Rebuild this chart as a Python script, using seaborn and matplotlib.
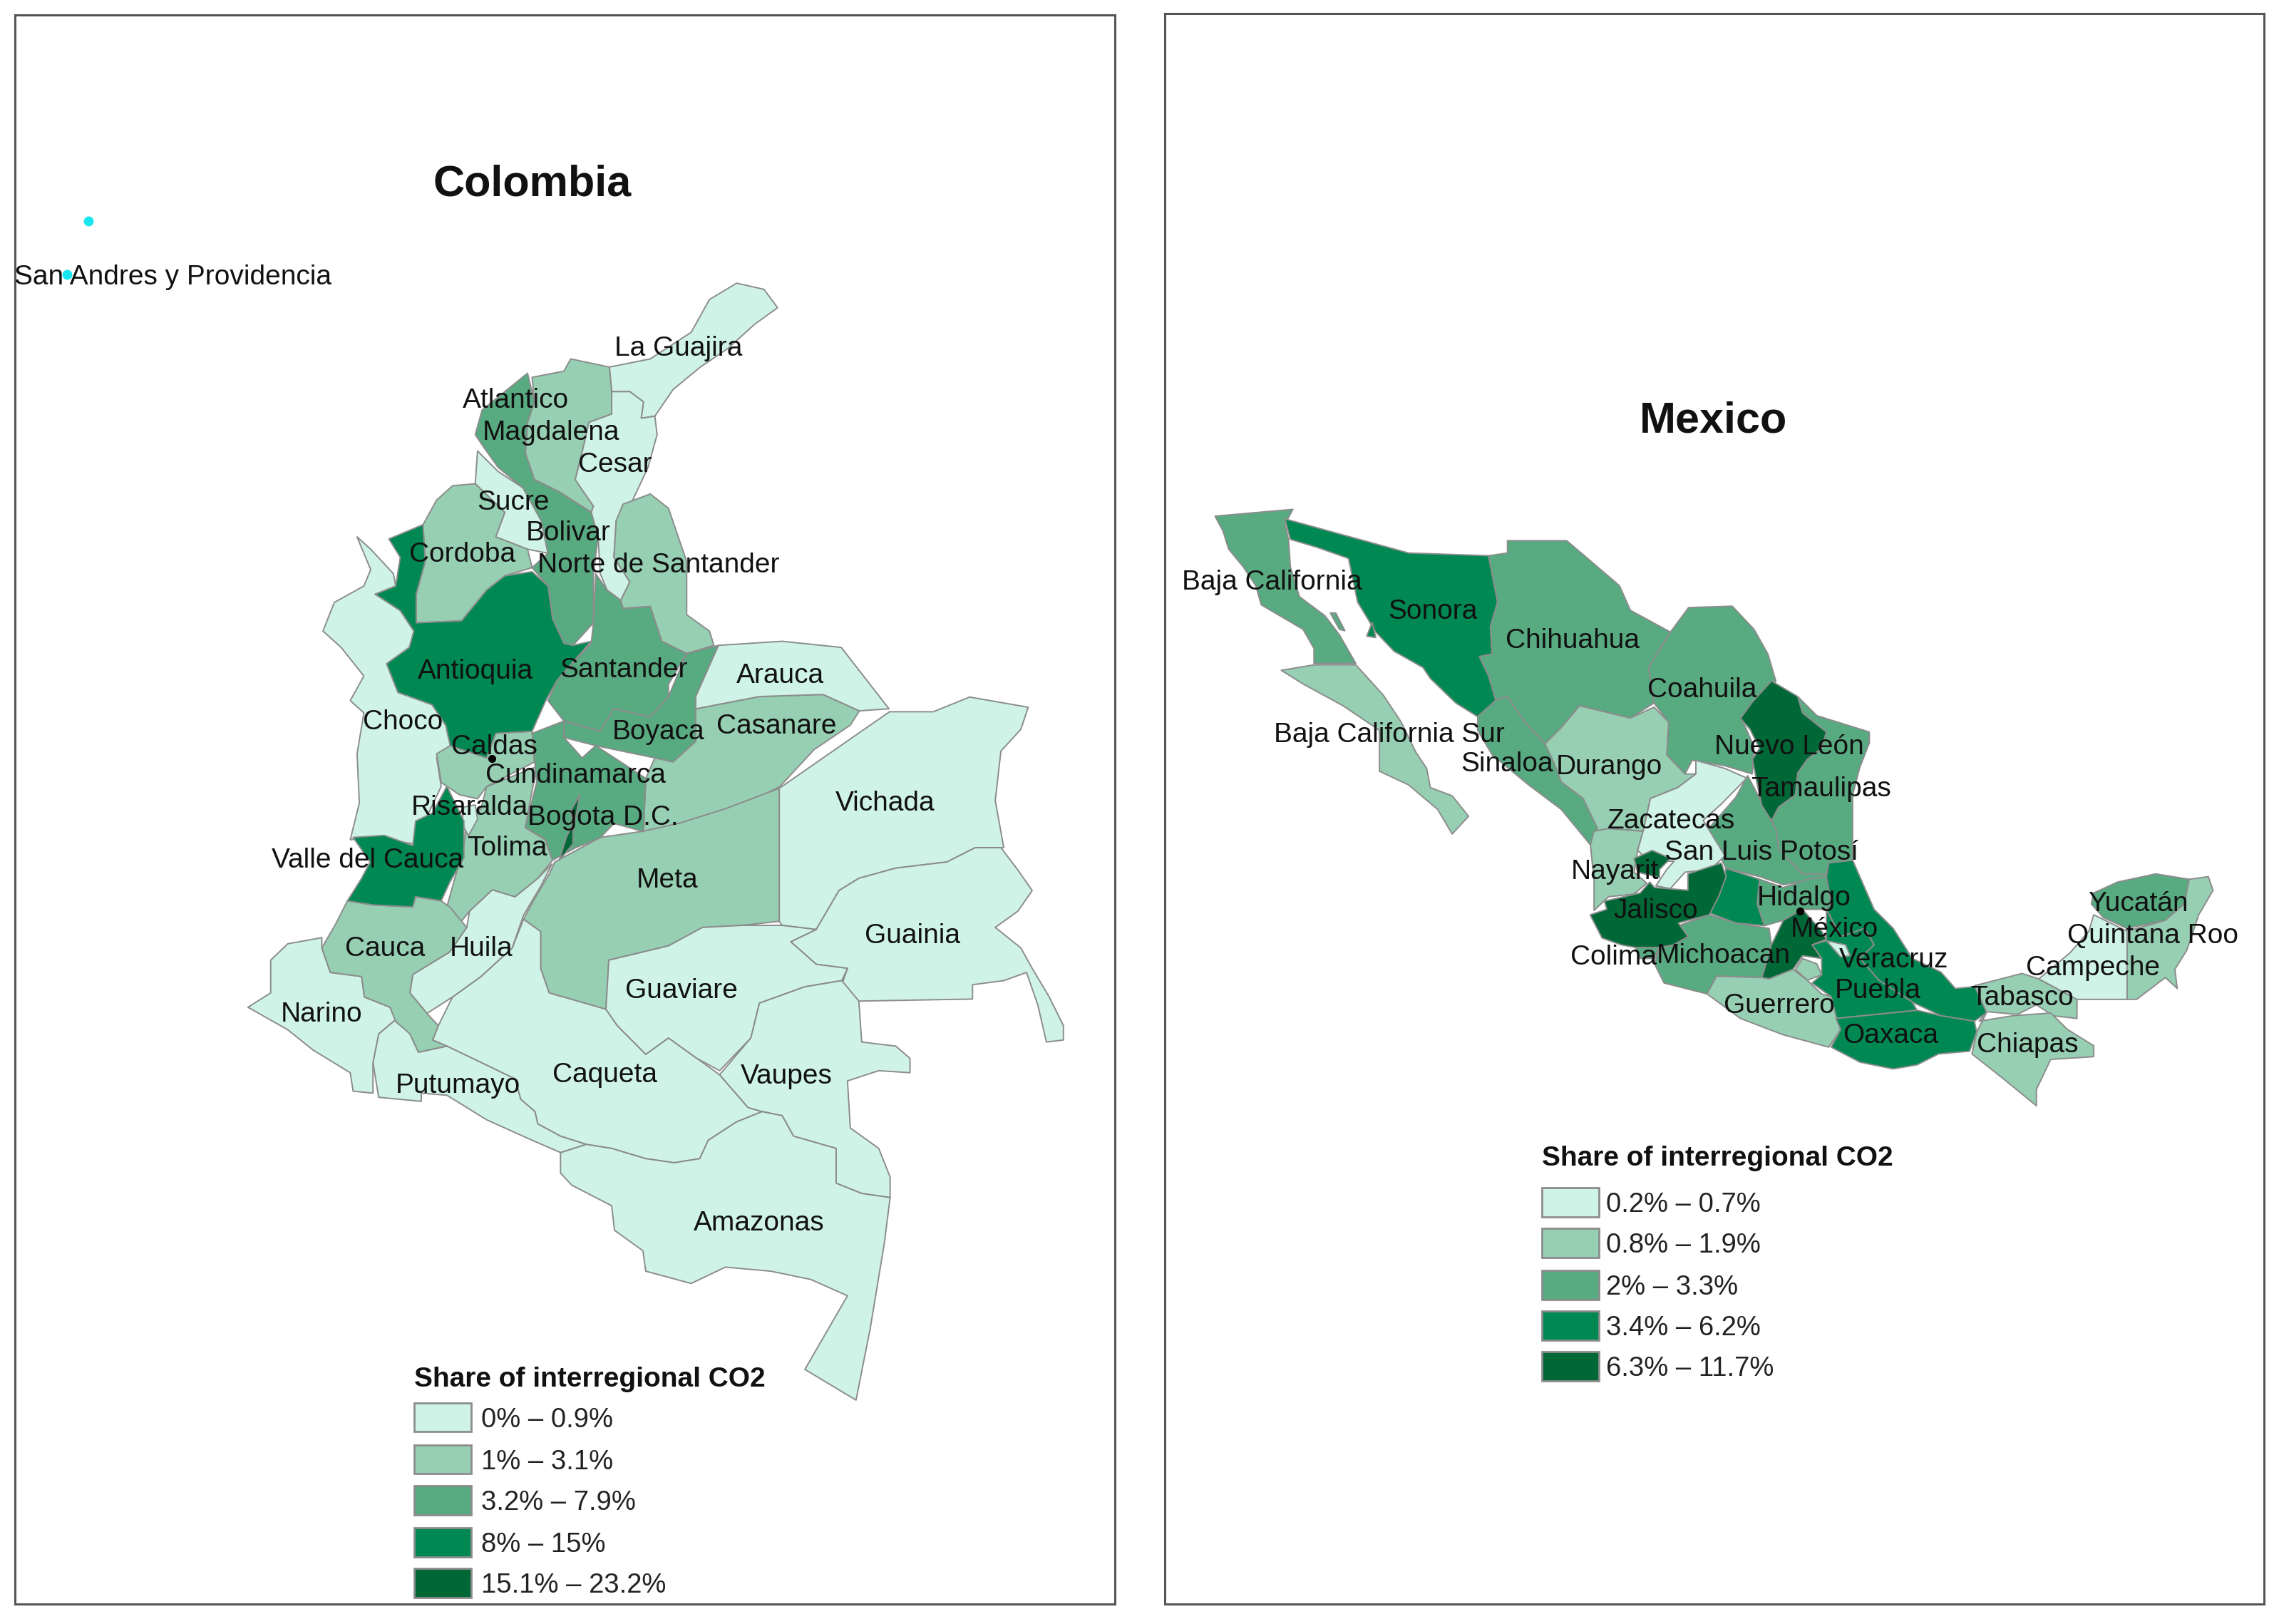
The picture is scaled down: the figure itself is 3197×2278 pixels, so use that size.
import matplotlib
matplotlib.use("Agg")
import matplotlib.pyplot as plt
from matplotlib.patches import Rectangle
import seaborn as sns

W, H = 3197, 2278
DISP = 3197 / 1568
TEXT_DY = 1.8

# Source frames of the digitised outlines: (x0, x scale, y0, y scale)
FRAMES = {
    "A": (300, 1.568, 380, 1.742),
    "B": (300, 1.2544, 1100, 1.742),
    "C": (1680, 1.96, 680, 2.613),
    "D": (2100, 1.4933, 1000, 2.613),
}

CLASS_COLORS = ["#CFF4E7", "#96CFB2", "#58AA81", "#008852", "#006837"]
COL_LEGEND = ["0% – 0.9%", "1% – 3.1%", "3.2% – 7.9%", "8% – 15%", "15.1% – 23.2%"]
MEX_LEGEND = ["0.2% – 0.7%", "0.8% – 1.9%", "2% – 3.3%", "3.4% – 6.2%", "6.3% – 11.7%"]
LEGEND_TITLE = "Share of interregional CO2"

# ---------- Colombia department outlines (frame, class, vertices) ----------
choco = [(315,650),(345,680),(395,740),(400,770),(355,790),(410,830),(440,880),(430,920),(380,960),(405,1030),(480,1060),(510,1110),(520,1160),(490,1190),(500,1260),(440,1400),(350,1385),(300,1390),(320,1300),(315,1180),(330,1080),(300,1050),(330,990),(280,920),(240,880),(265,810),(330,770),(345,730)]
guajira = [(870,235),(960,215),(1050,150),(1090,70),(1150,30),(1210,45),(1240,90),(1190,130),(1130,190),(1070,235),(1010,290),(970,355),(940,360),(945,320),(915,295),(875,295)]
magdalena = [(870,235),(785,215),(770,245),(700,260),(705,320),(690,370),(685,445),(705,510),(760,540),(830,590),(835,575),(795,510),(815,420),(825,370),(875,350),(875,295)]
atl_bolivar = [(690,250),(705,320),(690,370),(685,445),(705,510),(760,540),(830,590),(845,650),(835,740),(835,860),(790,915),(770,910),(745,850),(735,770),(700,725),(735,690),(720,610),(680,530),(625,480),(590,425),(575,400),(590,340)]
cesar = [(875,295),(915,295),(945,320),(940,360),(970,355),(975,400),(955,480),(915,575),(885,610),(880,700),(915,760),(895,805),(865,780),(850,740),(845,650),(830,590),(835,575),(795,510),(815,420),(825,370),(875,350)]
sucre = [(580,440),(625,490),(680,530),(720,610),(735,690),(690,680),(620,650),(640,590),(575,520)]
cordoba = [(525,525),(575,520),(640,590),(620,650),(690,680),(700,725),(640,745),(600,780),(545,855),(445,860),(445,790),(465,710),(460,620),(490,560)]
antioquia = [(460,620),(385,655),(410,700),(400,770),(355,790),(410,830),(440,880),(430,920),(380,960),(405,1030),(480,1060),(510,1110),(520,1160),(600,1190),(620,1130),(700,1125),(730,1050),(755,1000),(830,905),(790,915),(770,910),(745,850),(735,770),(700,735),(640,745),(600,780),(545,855),(445,860),(445,790),(465,710)]
n_santander = [(900,570),(960,545),(1000,580),(1040,710),(1040,840),(1090,880),(1100,915),(1040,935),(985,905),(960,820),(900,825),(895,805),(915,760),(880,700),(885,610)]
santander = [(840,740),(865,780),(895,805),(900,825),(960,820),(985,905),(1040,935),(1000,1010),(1000,1040),(960,1090),(880,1070),(850,1125),(770,1100),(735,1050),(755,1000),(830,910),(835,860)]
boyaca = [(1110,915),(1060,1040),(1060,1150),(1010,1200),(970,1190),(840,1160),(770,1140),(770,1100),(850,1125),(880,1070),(960,1090),(1000,1040),(1040,935)]
cundinamarca = [(700,1130),(770,1100),(770,1140),(810,1190),(840,1160),(950,1240),(945,1370),(880,1350),(850,1385),(795,1410),(745,1440),(730,1390),(685,1360),(710,1250)]
casanare = [(1060,1070),(1200,1040),(1340,1035),(1420,1075),(1400,1110),(1320,1170),(1245,1260),(1140,1320),(1020,1360),(945,1370),(950,1240),(970,1190),(1010,1200),(1060,1150)]
arauca = [(1110,915),(1250,905),(1380,920),(1485,1070),(1420,1075),(1340,1035),(1200,1040),(1060,1070),(1060,1040)]
caldas_ris = [(490,1180),(520,1160),(600,1190),(620,1130),(700,1125),(705,1200),(600,1260),(580,1290),(540,1280),(500,1250)]
quindio = [(575,1305),(580,1340),(560,1380),(545,1350),(550,1310)]
bogota = [(805,1280),(790,1370),(790,1400),(760,1440),(775,1385),(790,1350),(785,1320)]

tolima = [(480,6),(568,-43),(548,106),(583,136),(596,186),(570,230),(530,275),(490,258),(450,310),(430,345),(410,300),(440,150),(445,100),(470,60)]
meta = [(600,190),(680,130),(755,115),(820,95),(900,60),(995,10),(995,335),(930,345),(860,350),(800,395),(695,430),(690,550),(590,510),(575,450),(575,360),(545,330),(560,290),(590,220)]
valle = [(410,5),(440,90),(440,180),(415,240),(400,285),(355,275),(350,300),(280,295),(235,285),(260,230),(275,190),(245,130),(300,125),(350,150),(355,90),(385,70)]
cauca = [(235,285),(280,295),(350,300),(355,275),(400,285),(415,300),(445,350),(415,410),(350,465),(345,510),(375,560),(395,590),(385,625),(410,640),(360,655),(345,610),(320,580),(310,545),(265,520),(260,470),(205,460),(190,400),(215,340)]
huila = [(490,258),(530,275),(570,230),(595,195),(575,250),(545,320),(525,400),(470,470),(420,520),(375,560),(345,510),(350,465),(415,410),(445,350),(450,310)]
narino = [(190,375),(190,400),(205,460),(260,470),(265,520),(310,545),(320,575),(290,610),(280,680),(280,755),(245,750),(240,705),(175,650),(130,600),(60,545),(100,510),(100,430),(130,390)]
putumayo = [(320,575),(345,610),(360,655),(410,640),(470,680),(530,720),(540,770),(565,800),(570,830),(610,860),(655,880),(610,900),(560,870),(480,820),(410,760),(365,755),(365,775),(290,765),(280,680),(290,610)]
caqueta = [(545,330),(575,360),(575,450),(590,510),(690,550),(710,590),(760,660),(800,620),(850,670),(890,710),(940,790),(965,800),(920,825),(870,870),(855,915),(810,925),(760,915),(700,890),(655,880),(610,860),(570,830),(565,800),(540,770),(530,720),(470,680),(410,640),(385,625),(395,590),(420,520),(470,470),(525,400)]
guaviare = [(695,430),(800,395),(860,350),(930,345),(1000,345),(1060,355),(1015,385),(1060,440),(1115,450),(1105,480),(1040,495),(960,535),(945,620),(890,700),(850,670),(800,620),(760,660),(710,590),(690,550)]
vichada = [(995,10),(1189,-177),(1266,-177),(1330,-213),(1433,-188),(1420,-134),(1385,-81),(1375,40),(1390,155),(1340,155),(1290,190),(1200,205),(1135,230),(1100,260),(1060,355),(1000,345),(995,335)]
guainia = [(1060,355),(1100,260),(1135,230),(1200,205),(1290,190),(1340,155),(1385,155),(1415,210),(1440,260),(1415,310),(1375,350),(1420,400),(1440,450),(1470,520),(1495,590),(1495,625),(1465,630),(1450,540),(1430,460),(1390,480),(1335,490),(1335,525),(1135,530),(1105,490),(1115,450),(1060,440),(1015,385)]
vaupes = [(960,535),(1040,495),(1105,480),(1135,530),(1140,630),(1200,640),(1225,670),(1225,705),(1170,700),(1115,725),(1120,840),(1170,890),(1190,960),(1190,1010),(1140,1000),(1095,975),(1095,890),(1020,860),(1000,810),(965,800),(940,790),(890,710),(945,620)]
amazonas = [(610,900),(655,880),(700,890),(760,915),(810,925),(855,915),(870,870),(920,825),(965,800),(1000,810),(1020,860),(1095,890),(1095,975),(1140,1000),(1190,1010),(1180,1120),(1155,1330),(1130,1505),(1040,1430),(1115,1250),(1050,1210),(980,1190),(900,1180),(840,1220),(760,1190),(755,1140),(705,1090),(700,1030),(630,980),(610,950)]

COLOMBIA = [
    ("A",0,choco),("A",0,guajira),("A",1,magdalena),("A",0,cesar),("A",0,sucre),("A",1,cordoba),
    ("A",2,atl_bolivar),("A",1,n_santander),("A",2,santander),("A",2,boyaca),("A",1,casanare),("A",0,arauca),
    ("B",1,meta),("B",0,vichada),("B",0,guainia),("B",0,caqueta),("B",0,guaviare),("B",0,vaupes),("B",0,amazonas),
    ("B",0,putumayo),("B",0,narino),("B",0,huila),("B",1,tolima),("A",1,caldas_ris),("A",2,cundinamarca),
    ("A",3,antioquia),("B",1,cauca),("A",0,quindio),("B",3,valle),("A",4,bogota),
]

# ---------- Mexico state outlines ----------
baja = [(48,115),(262,90),(240,145),(250,200),(255,300),(280,410),(350,480),(390,550),(435,655),(320,655),(320,600),(290,530),(175,440),(160,370),(125,300),(85,235),(70,170)]
sonora = [(240,125),(580,250),(800,260),(825,430),(805,520),(810,620),(775,630),(800,700),(820,790),(770,850),(710,800),(640,710),(620,670),(540,610),(490,540),(440,430),(415,270),(330,230),(255,200)]
sonora_isle = [(465,555),(480,505),(490,560)]
baja_isle = [(365,470),(380,470),(405,535),(390,530)]
chihuahua = [(800,260),(852,250),(852,205),(1015,205),(1090,290),(1160,370),(1190,460),(1300,540),(1240,670),(1255,800),(1190,855),(1050,810),(1000,890),(955,950),(900,870),(850,775),(820,790),(800,700),(775,630),(810,620),(805,520),(825,430)]
coahuila = [(1300,540),(1350,450),(1470,445),(1530,530),(1568,620),(1590,720),(1540,790),(1495,855),(1530,960),(1525,1060),(1450,1030),(1360,1010),(1340,1060),(1290,990),(1295,870),(1255,800),(1240,670)]
durango = [(955,950),(1000,890),(1050,810),(1190,855),(1255,815),(1295,870),(1290,990),(1340,1060),(1370,1060),(1320,1110),(1245,1150),(1225,1270),(1130,1260),(1090,1270),(1060,1150),(1000,1090),(980,1020)]
sinaloa = [(770,850),(820,790),(850,775),(900,870),(955,950),(980,1020),(1000,1090),(1060,1150),(1100,1260),(1080,1320),(1000,1190),(910,1100),(810,990),(770,900)]
bcs = [(230,680),(320,660),(435,660),(510,770),(560,870),(600,980),(630,1040),(640,1110),(700,1140),(745,1215),(700,1280),(660,1190),(580,1100),(500,1050),(500,900),(400,810),(290,730)]
zacatecas = [(1370,1010),(1450,1040),(1510,1075),(1440,1170),(1390,1230),(1450,1360),(1410,1410),(1340,1420),(1300,1480),(1260,1470),(1290,1410),(1310,1380),(1240,1380),(1210,1340),(1225,1270),(1245,1150),(1320,1110),(1370,1060)]
aguascal = [(1200,1370),(1250,1340),(1300,1370),(1270,1410),(1270,1440),(1210,1420)]
nayarit = [(1090,1270),(1130,1260),(1225,1270),(1210,1340),(1200,1420),(1235,1460),(1200,1500),(1130,1510),(1090,1560),(1090,1450),(1080,1320)]

nuevo_leon = [(575,-117),(630,-60),(640,0),(690,70),(685,100),(680,130),(650,170),(630,220),(625,300),(590,345),(575,395),(555,340),(545,260),(535,170),(550,130),(530,60),(510,20),(535,-40)]
tamaulipas = [(630,-60),(670,10),(780,70),(780,110),(760,200),(745,300),(745,540),(695,550),(690,590),(640,590),(590,500),(585,430),(575,395),(590,345),(625,300),(630,220),(650,170),(680,130),(690,70),(640,0)]
slp = [(525,230),(575,395),(585,430),(590,500),(640,590),(695,550),(690,600),(660,610),(600,630),(550,600),(480,570),(440,430),(500,310)]
jalisco = [(470,550),(480,600),(465,670),(445,740),(380,770),(400,820),(370,850),(340,860),(290,860),(260,850),(220,825),(195,740),(230,720),(225,690),(300,660),(320,620),(330,640),(400,650),(400,590)]
colima = [(290,860),(340,860),(330,900),(300,900)]
guanajuato = [(480,570),(550,610),(545,700),(560,780),(500,770),(440,730),(465,670)]
michoacan = [(380,780),(445,740),(500,770),(570,790),(575,850),(555,970),(460,965),(440,1030),(350,990),(330,920),(340,860),(370,850),(400,820)]
hidalgo = [(550,610),(600,640),(650,610),(690,600),(700,700),(690,720),(640,720),(600,760),(560,780),(545,700)]
edomex = [(600,760),(640,720),(680,800),(690,830),(660,850),(680,900),(640,890),(620,940),(570,975),(555,970),(575,850)]
tlaxcala = [(690,835),(730,850),(740,890),(720,895)]
morelos = [(640,900),(670,920),(680,960),(650,980),(625,940)]
veracruz = [(695,550),(745,540),(770,640),(790,720),(830,790),(870,900),(930,950),(960,1010),(1020,1000),(1025,1100),(1000,1130),(930,1110),(870,1060),(800,980),(760,900),(790,850),(770,790),(720,820),(690,720),(700,700),(690,600)]
puebla = [(690,720),(720,820),(770,790),(790,850),(760,900),(800,980),(870,1060),(880,1090),(710,1120),(700,1040),(660,990),(680,960),(680,900),(660,850),(690,835)]
guerrero = [(440,1030),(460,965),(555,970),(570,975),(620,940),(650,980),(680,1030),(700,1040),(710,1110),(720,1160),(695,1225),(600,1180),(510,1120)]
oaxaca = [(710,1120),(880,1090),(930,1110),(1000,1130),(1005,1170),(990,1240),(925,1250),(880,1290),(830,1305),(760,1280),(700,1225),(720,1160)]
chiapas = [(1010,1130),(1080,1110),(1160,1100),(1195,1160),(1250,1220),(1250,1260),(1160,1270),(1130,1380),(1130,1440),(1060,1340),(995,1250),(1005,1170),(1025,1100)]
tabasco = [(1000,1000),(1100,955),(1135,975),(1215,1050),(1215,1120),(1165,1110),(1130,1070),(1090,1105),(1025,1095)]
campeche = [(1250,740),(1320,800),(1320,1050),(1215,1050),(1135,975),(1200,880),(1240,800)]
yucatan = [(1250,660),(1300,620),(1380,590),(1450,610),(1440,700),(1400,760),(1320,790),(1270,750),(1245,700)]
qroo = [(1450,610),(1490,600),(1500,650),(1470,740),(1445,870),(1420,940),(1425,1010),(1400,970),(1340,1050),(1320,1050),(1320,800),(1400,760),(1440,700)]

MEXICO = [
    ("C",2,baja),("C",2,baja_isle),("C",3,sonora),("C",3,sonora_isle),("C",2,chihuahua),("C",2,coahuila),("C",1,durango),
    ("C",2,sinaloa),("C",1,bcs),("C",1,nayarit),("D",2,slp),("D",2,tamaulipas),("C",0,zacatecas),("C",4,aguascal),
    ("D",4,nuevo_leon),("D",2,hidalgo),("D",3,guanajuato),("D",2,michoacan),("D",4,jalisco),("D",2,colima),
    ("D",3,veracruz),("D",3,puebla),("D",4,edomex),("D",0,tlaxcala),("D",1,morelos),("D",1,guerrero),("D",3,oaxaca),
    ("D",1,tabasco),("D",1,chiapas),("D",0,campeche),("D",2,yucatan),("D",1,qroo),
]

COL_NAMES = ["San Andres y Providencia","La Guajira","Atlantico","Magdalena","Cesar","Sucre","Bolivar","Cordoba","Norte de Santander","Antioquia","Santander","Arauca","Choco","Casanare","Boyaca","Caldas","Cundinamarca","Vichada","Risaralda","Bogota D.C.","Tolima","Valle del Cauca","Meta","Guainia","Cauca","Huila","Guaviare","Narino","Caqueta","Vaupes","Putumayo","Amazonas"]
COL_X = [119,467,355,379,423,353,391,318,453,327,429,537,277,534,453,340,396,609,323,415,349,253,459,628,265,331,469,221,416,541,315,522]
COL_Y = [189,238,274,296,318,344,365,380,387,460,459,463,495,498,502,512,532,551,554,561,582,590,604,642,651,651,680,696,738,739,745,840]

MEX_NAMES = ["Baja California","Sonora","Chihuahua","Coahuila","Baja California Sur","Nuevo León","Sinaloa","Durango","Tamaulipas","Zacatecas","San Luis Potosí","Nayarit","Hidalgo","Yucatán","Jalisco","México","Quintana Roo","Colima","Michoacan","Veracruz","Campeche","Puebla","Tabasco","Guerrero","Oaxaca","Chiapas"]
MEX_X = [875,986,1082,1171,956,1231,1037,1107,1253,1150,1212,1111,1241,1471,1139,1262,1481,1110,1186,1303,1440,1292,1391,1224,1301,1395]
MEX_Y = [399,419,439,473,504,512,524,526,541,563,585,598,616,620,625,638,642,657,656,659,664,680,685,690,711,717]

sns.set_style("white")
plt.rcParams["font.family"] = ["Liberation Sans", "DejaVu Sans"]
palette = sns.color_palette(CLASS_COLORS)
EDGE = "#8c8c8c"
LABEL_FS = 28


def to_px(frame, pts):
    x0, sx, y0, sy = FRAMES[frame]
    return [x0 + p[0] / sx for p in pts], [y0 + p[1] / sy for p in pts]


def make_panel(fig, left, top, right, bottom):
    ax = fig.add_axes([left / W, 1 - bottom / H, (right - left) / W, (bottom - top) / H])
    ax.set_xlim(left, right)
    ax.set_ylim(bottom, top)
    ax.set_xticks([])
    ax.set_yticks([])
    for s in ax.spines.values():
        s.set_color("#555555")
        s.set_linewidth(2.2)
    return ax


def draw_regions(ax, regions):
    for frame, cls, outline in regions:
        xs, ys = to_px(frame, outline)
        ax.fill(xs, ys, facecolor=palette[cls], edgecolor=EDGE, linewidth=1.4, joinstyle="round")


def draw_labels(ax, names, xs, ys):
    for name, x, y in zip(names, xs, ys):
        ax.text(x * DISP, (y + TEXT_DY) * DISP, name, ha="center", va="center", fontsize=LABEL_FS, color="#111111")


def draw_legend(ax, x, title_y, row_ys, labels, text_x):
    ax.text(x * DISP, (title_y + TEXT_DY) * DISP, LEGEND_TITLE, fontsize=28, fontweight="bold", ha="left", va="center", color="#111111")
    for i, (yy, lab) in enumerate(zip(row_ys, labels)):
        ax.add_patch(Rectangle((x * DISP, (yy - 10) * DISP), 39 * DISP, 20 * DISP,
                               facecolor=palette[i], edgecolor=EDGE, linewidth=2))
        ax.text(text_x * DISP, (yy + TEXT_DY) * DISP, lab, fontsize=27.5, ha="left", va="center", color="#222222")


fig = plt.figure(figsize=(W / 100, H / 100), dpi=100, facecolor="white")

ax1 = make_panel(fig, 21, 21, 1564, 2250)
draw_regions(ax1, COLOMBIA)
ax1.plot([61 * DISP, 46 * DISP], [152 * DISP, 189 * DISP], ls="none", marker="o", ms=9, color="#19E6EE")
xs, ys = to_px("A", [(612, 1192)])
ax1.plot(xs, ys, ls="none", marker="o", ms=7, color="black")
draw_labels(ax1, COL_NAMES, COL_X, COL_Y)
ax1.text(366 * DISP, 127 * DISP, "Colombia", fontsize=44, fontweight="bold", ha="center", va="center", color="#111111")
draw_legend(ax1, 285, 947, [975, 1004, 1032, 1061, 1089], COL_LEGEND, 331)

ax2 = make_panel(fig, 1634, 19, 3176, 2250)
draw_regions(ax2, MEXICO)
xs, ys = to_px("D", [(634, 727)])
ax2.plot(xs, ys, ls="none", marker="o", ms=7, color="black")
draw_labels(ax2, MEX_NAMES, MEX_X, MEX_Y)
ax2.text(1179 * DISP, 290 * DISP, "Mexico", fontsize=44, fontweight="bold", ha="center", va="center", color="#111111")
draw_legend(ax2, 1061, 795, [827, 855, 884, 912, 940], MEX_LEGEND, 1105)

fig.savefig("out.png", dpi=100, facecolor="white")
